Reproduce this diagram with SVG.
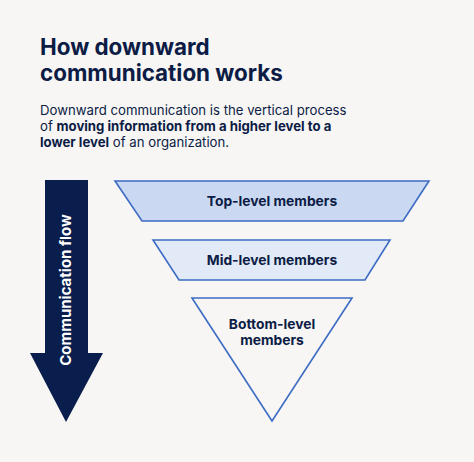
<svg xmlns="http://www.w3.org/2000/svg" width="474" height="462" viewBox="0 0 474 462">
<style>
text{font-family:Inter,"Noto Sans","Liberation Sans",sans-serif;fill:#0c1c45}
.t{font-size:22.4px;font-weight:700}
.p{font-size:13.2px;font-weight:400}
.b{font-weight:700}
.lbl{font-size:13.8px;font-weight:700;text-anchor:middle}
.shape{stroke:#3c6bc4;stroke-width:1.6;stroke-linejoin:miter}
</style>
<rect width="474" height="462" fill="#f7f6f5"/>
<g id="title">
<text class="t" x="40" y="55">How downward</text>
<text class="t" x="40" y="81">communication works</text>
</g>
<g id="desc">
<text class="p" x="40" y="115">Downward communication is the vertical process</text>
<text class="p" x="40" y="131">of <tspan class="b">moving information from a higher level to a</tspan></text>
<text class="p" x="40" y="147"><tspan class="b">lower level</tspan> of an organization.</text>
</g>
<g id="arrow">
<polygon points="45,180 88,180 88,353 103,353 66,422 30,353 45,353" fill="#0a1e4e"/>
<text transform="translate(71,290) rotate(-90)" text-anchor="middle" style="font-size:15px;font-weight:700;fill:#ffffff">Communication flow</text>
</g>
<g id="top-level">
<polygon class="shape" points="115,181 429,181 403,221 142,221" fill="#cbd8f2"/>
<text class="lbl" x="272" y="206">Top-level members</text>
</g>
<g id="mid-level">
<polygon class="shape" points="153,240 390,240 365,280 179,280" fill="#e2e9f7"/>
<text class="lbl" x="272" y="265">Mid-level members</text>
</g>
<g id="bottom-level">
<polygon class="shape" points="192,298 352,298 272,421" fill="#f7f6f5"/>
<text class="lbl" x="272" y="329">Bottom-level</text>
<text class="lbl" x="272" y="345">members</text>
</g>
</svg>
